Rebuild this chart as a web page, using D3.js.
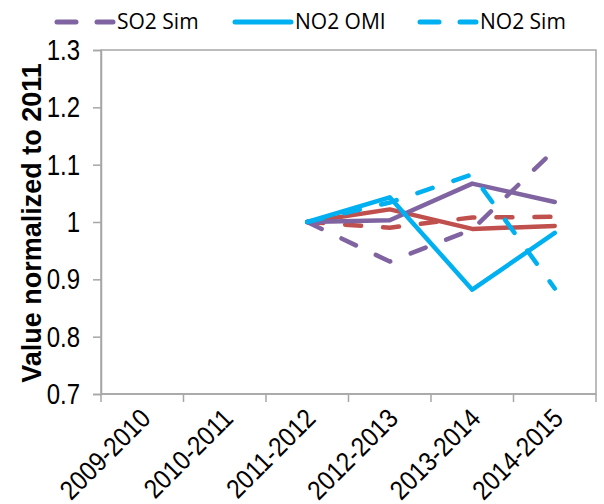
<!DOCTYPE html>
<html>
<head>
<meta charset="utf-8">
<script src="https://cdn.jsdelivr.net/npm/d3@7/dist/d3.min.js"></script>
<style>
  html, body { margin: 0; padding: 0; background: #fff; }
  svg { display: block; }
</style>
</head>
<body>
<svg id="chart" width="604" height="504"></svg>
<script>
// Seasons on the category axis
const categories = ["2009-2010", "2010-2011", "2011-2012", "2012-2013", "2013-2014", "2014-2015"];
// Y ticks
const yTicks = [0.7, 0.8, 0.9, 1.0, 1.1, 1.2, 1.3];
const yTickLabels = ["0.7", "0.8", "0.9", "1", "1.1", "1.2", "1.3"];

// Series values, normalised to 2011 (null = no data for that season)
const so2Omi = [null, null, 1.000, 1.003, 1.067, 1.035];
const so2Sim = [null, null, 1.000, 0.931, 0.987, 1.126];
const no2Omi = [null, null, 1.000, 1.043, 0.882, 0.981];
const no2Sim = [null, null, 1.000, 1.034, 1.083, 0.884];
const redObs = [null, null, 1.000, 1.022, 0.988, 0.993];
const redSim = [null, null, 1.000, 0.990, 1.008, 1.009];

const series = [
  { name: "Obs (red)", values: redObs, color: "#C0504D", dashed: false, legend: false },
  { name: "Sim (red)", values: redSim, color: "#C0504D", dashed: true, legend: false },
  { name: "SO2 OMI", values: so2Omi, color: "#8064A2", dashed: false, legend: false },
  { name: "SO2 Sim", values: so2Sim, color: "#8064A2", dashed: true, legend: true },
  { name: "NO2 OMI", values: no2Omi, color: "#00B0F0", dashed: false, legend: true },
  { name: "NO2 Sim", values: no2Sim, color: "#00B0F0", dashed: true, legend: true }
];

const svg = d3.select("#chart");
const plot = { left: 101, right: 596, top: 50, bottom: 394 };
const axisColor = "#A6A6A6";
const tickFont = "'Liberation Sans', Arial, sans-serif";
const stretch = 1.2; // tick glyphs are set tall and narrow

const x = d3.scaleBand().domain(categories).range([plot.left, plot.right]).padding(0);
const y = d3.scaleLinear().domain([0.7, 1.3]).range([plot.bottom, plot.top]);
const cx = c => x(c) + x.bandwidth() / 2;

// Plot-area frame
svg.append("rect")
  .attr("x", plot.left).attr("y", plot.top)
  .attr("width", plot.right - plot.left).attr("height", plot.bottom - plot.top)
  .attr("fill", "none").attr("stroke", axisColor).attr("stroke-width", 1.5);

// Y axis
const yAxis = d3.axisLeft(y).tickValues(yTicks).tickSize(8).tickPadding(0)
  .tickFormat((d, i) => yTickLabels[i]);
const gy = svg.append("g").attr("transform", `translate(${plot.left},0)`).call(yAxis);
gy.select(".domain").attr("stroke", axisColor).attr("stroke-width", 1.5);
gy.selectAll(".tick line").attr("stroke", axisColor).attr("stroke-width", 1.5);
gy.selectAll(".tick text")
  .attr("x", null).attr("dy", null)
  .attr("transform", `translate(-21,0) scale(1,${stretch})`)
  .attr("y", 8)
  .attr("font-family", tickFont).attr("font-size", 24).attr("fill", "#000");

// X axis: ticks sit on category boundaries
const boundaries = d3.range(categories.length + 1).map(i => plot.left + i * x.bandwidth());
const gx = svg.append("g");
gx.append("line")
  .attr("x1", plot.left).attr("x2", plot.right)
  .attr("y1", plot.bottom).attr("y2", plot.bottom)
  .attr("stroke", axisColor).attr("stroke-width", 1.5);
gx.selectAll("line.tick").data(boundaries).join("line")
  .attr("class", "tick")
  .attr("x1", d => d).attr("x2", d => d)
  .attr("y1", plot.bottom).attr("y2", plot.bottom + 8)
  .attr("stroke", axisColor).attr("stroke-width", 1.5);
gx.selectAll("text").data(categories).join("text")
  .attr("transform", d => `translate(${cx(d) + 10},${plot.bottom + 26}) rotate(-45) scale(1,1.12)`)
  .attr("text-anchor", "end")
  .attr("font-family", tickFont).attr("font-size", 24).attr("fill", "#000")
  .text(d => d);

// Y axis title
svg.append("text")
  .attr("transform", `translate(41,${(plot.top + plot.bottom) / 2 + 1}) rotate(-90)`)
  .attr("text-anchor", "middle")
  .attr("font-family", tickFont).attr("font-size", 27).attr("font-weight", "bold")
  .attr("fill", "#000")
  .text("Value normalized to 2011");

// Series lines
const line = d3.line()
  .defined(d => d.v != null)
  .x(d => cx(d.c))
  .y(d => y(d.v));

svg.append("g").selectAll("path").data(series).join("path")
  .attr("d", s => line(s.values.map((v, i) => ({ c: categories[i], v }))))
  .attr("fill", "none")
  .attr("stroke", s => s.color)
  .attr("stroke-width", 4.5)
  .attr("stroke-linecap", "round")
  .attr("stroke-linejoin", "round")
  .attr("stroke-dasharray", s => s.dashed ? "16,22" : null);

// Legend row
const legendItems = series.filter(s => s.legend);
const legendPos = [55, 233, 418];
const lg = svg.append("g").selectAll("g").data(legendItems).join("g")
  .attr("transform", (d, i) => `translate(${legendPos[i]},22)`);
lg.append("line")
  .attr("x1", 2).attr("x2", 58).attr("y1", 0).attr("y2", 0)
  .attr("stroke", d => d.color).attr("stroke-width", 5)
  .attr("stroke-linecap", "round")
  .attr("stroke-dasharray", d => d.dashed ? "19,21" : null);
lg.append("text")
  .attr("x", 62)
  .attr("y", 0).attr("dy", "0.35em")
  .attr("font-family", "'Open Sans', 'Noto Sans', sans-serif").attr("font-size", 21)
  .attr("fill", "#000")
  .text(d => d.name);
</script>
</body>
</html>
